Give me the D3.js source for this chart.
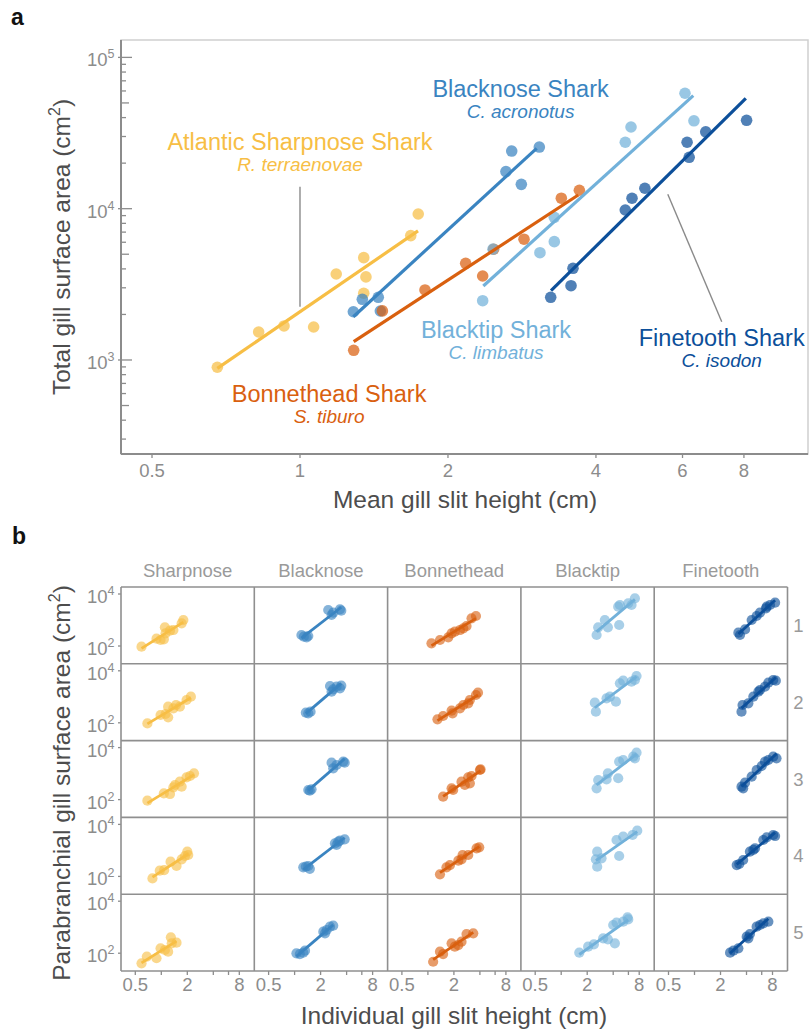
<!DOCTYPE html>
<html><head><meta charset="utf-8">
<script src="https://cdn.jsdelivr.net/npm/d3@7"></script>
<style>body{margin:0;background:#fff;} svg{display:block;font-family:"Liberation Sans",Arial,Helvetica,sans-serif;}</style>
</head><body><svg id="c" width="809" height="1034"></svg>
<script>
// ---------- categories & styling ----------
const species = ["Sharpnose","Blacknose","Bonnethead","Blacktip","Finetooth"];
const commonNames = ["Atlantic Sharpnose Shark","Blacknose Shark","Bonnethead Shark","Blacktip Shark","Finetooth Shark"];
const sciNames = ["R. terraenovae","C. acronotus","S. tiburo","C. limbatus","C. isodon"];
const colors = ["#F7BE45","#3A84C1","#D9600F","#72B1DA","#0C4F9A"];
const gillSlits = ["1","2","3","4","5"];

// ---------- panel a data: mean gill slit height (cm), total gill area (cm2) ----------
const sharpnoseMeanH = [0.679,0.824,0.928,1.066,1.185,1.348,1.362,1.348,1.68,1.74];
const sharpnoseTotal = [895,1531,1678,1652,3701,4745,3540,2762,6640,9225];
const blacknoseMeanH = [1.284,1.339,1.443,1.457,2.624,2.696,2.82,3.068];
const blacknoseTotal = [2084,2518,2595,2107,17580,24040,14480,25560];
const bonnetheadMeanH = [1.286,1.471,1.796,2.173,2.353,2.477,2.856,3.401,3.701];
const bonnetheadTotal = [1159,2110,2903,4352,3590,5397,6284,11730,13240];
const blacktipMeanH = [2.353,2.47,3.077,3.291,3.291,4.589,4.714,6.07,6.33];
const blacktipTotal = [2466,5400,5117,6055,8770,27480,34660,57920,38110];
const finetoothMeanH = [3.236,3.559,3.592,4.589,4.736,5.03,6.13,6.19,6.69,8.1];
const finetoothTotal = [2595,3097,4036,9800,11720,13650,27480,21860,32230,38400];
// fitted lines [x0, y0, x1, y1]
const fitLinesA = [[0.679,880,1.738,7130],[1.284,1932,3.03,25060],[1.286,1322,3.682,12320],[2.36,3083,6.31,55860],[3.241,2871,8.07,53660]];
// label anchors [x, y] (centre, baseline of common name)
const labelPosA = [[1.0,24430],[2.81,54950],[1.146,530],[2.505,1391],[7.21,1237]];
// leader lines [x0,y0,x1,y1]
const leaderLines = [[1.0,13960,1.0,2250],[5.60,12450,7.21,1792]];
const xTicksA = [0.5,1,2,4,6,8];
const yTicksA = [1e3,1e4,1e5];

// ---------- panel b data: individual slit height (cm), parabranchial area (cm2), per gill slit ----------
const sharpnoseSlitH = [
 [0.59,0.88,0.98,1.07,1.10,1.12,1.26,1.38,1.72,1.80],
 [0.69,0.98,1.12,1.20,1.20,1.38,1.48,1.64,1.96,2.20],
 [0.69,1.07,1.26,1.38,1.44,1.64,1.72,1.96,2.15,2.39],
 [0.79,0.96,1.08,1.28,1.50,1.72,1.88,2.0,2.05],
 [0.59,0.68,0.88,0.98,1.20,1.29,1.50,1.32,1.10]];
const sharpnoseSlitA = [
 [94,191,170,180,523,307,389,412,745,1000],
 [95,200,218,417,162,360,484,417,753,1010],
 [91,174,164,297,365,490,314,718,809,1023],
 [84,166,176,369,251,453,609,893,665],
 [41,74,64,154,115,408,254,240,133]];
const blacknoseSlitH = [
 [1.20,1.28,1.38,1.44,2.45,2.68,2.80,3.35,3.47],
 [1.35,1.44,1.53,2.57,2.68,2.80,3.06,3.47,3.35],
 [1.44,1.50,1.57,2.68,2.80,3.06,3.66,3.80],
 [1.26,1.35,1.44,1.50,2.93,3.06,3.20,3.35,3.80],
 [1.05,1.15,1.26,1.32,2.15,2.35,2.57,2.80,2.25]];
const blacknoseSlitA = [
 [265,228,215,243,2427,1556,1914,2573,2285],
 [245,231,268,2600,1574,1936,2455,2680,2120],
 [234,219,248,2630,1596,2143,2877,2630],
 [223,237,251,195,1871,1616,2168,2367,2668],
 [99,93,105,125,673,780,1050,1146,581]];
const bonnetheadSlitH = [
 [1.10,1.38,1.72,1.88,2.05,2.35,2.57,2.80,3.20,3.60],
 [1.29,1.50,1.88,1.93,2.35,2.57,2.93,3.06,3.60,3.80],
 [1.50,1.96,1.88,2.68,2.93,3.20,3.06,4.0,4.07,2.45],
 [1.38,1.64,1.80,2.25,2.45,2.52,2.93,3.66,3.93],
 [1.15,1.38,1.50,1.88,2.05,2.25,2.45,2.80,3.35]];
const bonnetheadSlitA = [
 [127,170,215,307,356,412,478,587,1159,1425],
 [136,183,293,231,360,484,561,753,1172,1442],
 [130,234,271,365,718,809,422,1375,1445,490],
 [120,223,274,403,453,665,665,1200,1312],
 [47,115,93,240,178,206,278,547,581]];
const blacktipSlitH = [
 [2.57,2.68,3.20,3.47,4.69,4.57,4.78,5.97,6.52,7.13],
 [2.52,2.45,3.35,3.66,4.30,4.78,5.22,6.52,7.45,7.13],
 [2.57,2.68,3.35,3.47,4.57,4.69,5.22,6.82,7.45,7.13],
 [2.61,2.52,2.61,2.93,4.69,4.37,5.22,6.70,7.59],
 [1.62,2.05,2.39,3.06,3.47,4.18,4.0,4.37,5.22,5.86,5.97]];
const blacktipSlitA = [
 [265,523,1000,523,643,3258,3779,4374,3779,6813],
 [268,595,873,1010,650,3296,4170,3820,6310,4430],
 [271,566,599,1023,663,2877,3333,4485,6380,3866],
 [237,453,893,496,609,2512,3373,3911,5740],
 [105,178,219,373,342,240,1216,1493,1633,2400,1985]];
const finetoothSlitH = [
 [3.36,3.22,3.85,4.59,5.24,5.73,6.72,6.85,7.49,8.57],
 [3.50,3.60,4.20,4.80,5.49,5.73,6.55,7.16,8.15,8.74],
 [3.50,3.66,3.85,4.59,5.24,5.99,6.55,7.16,8.15,8.9],
 [3.08,3.30,3.66,4.38,5.02,4.80,6.26,6.85,8.15,8.57],
 [2.58,2.82,3.22,4.02,4.38,5.24,5.73,6.26,7.16,4.20]];
const finetoothSlitA = [
 [265,326,436,1000,1425,1914,2812,3258,3779,4641],
 [268,484,561,1010,1574,1828,2455,3500,4430,4170],
 [314,271,448,762,1375,1959,2877,3333,4485,3866],
 [274,300,428,893,1200,1039,2512,3183,3911,3573],
 [105,125,154,433,547,1050,1216,1409,1633,373]];
const xTicksB = [0.5,1,2,4,6,8];
const xTickLabelsB = ["0.5","","2","","","8"];
const yTicksB = [1e2,1e4];

// ---------- assemble ----------
const panelA = [
 {x:sharpnoseMeanH,y:sharpnoseTotal},{x:blacknoseMeanH,y:blacknoseTotal},
 {x:bonnetheadMeanH,y:bonnetheadTotal},{x:blacktipMeanH,y:blacktipTotal},
 {x:finetoothMeanH,y:finetoothTotal}];
const panelB = [
 {h:sharpnoseSlitH,a:sharpnoseSlitA},{h:blacknoseSlitH,a:blacknoseSlitA},
 {h:bonnetheadSlitH,a:bonnetheadSlitA},{h:blacktipSlitH,a:blacktipSlitA},
 {h:finetoothSlitH,a:finetoothSlitA}];

const svg = d3.select("#c");
const tickCol = "#8c8c8c", titleCol = "#4d4d4d", axisCol = "#8c8c8c";

function powLabel(sel, v, x, y, fs, sfs) {
  const e = Math.round(Math.log10(v));
  const t = sel.append("text").attr("x", x).attr("y", y).attr("text-anchor","end")
    .attr("fill", tickCol).attr("font-size", fs);
  t.append("tspan").text("10");
  t.append("tspan").attr("font-size", sfs).attr("dy", -8).text(e);
}

// ================= PANEL A =================
const A = {l:121, r:808, t:40, b:454};
const xA = d3.scaleLog().domain([0.4324, 10.8]).range([A.l, A.r]);
const yA = d3.scaleLog().domain([239.1, 130300]).range([A.b, A.t]);
const gA = svg.append("g");

gA.append("rect").attr("x",A.l).attr("y",A.t).attr("width",A.r-A.l).attr("height",A.b-A.t)
  .attr("fill","none").attr("stroke","#cfcfcf").attr("stroke-width",1.5);
gA.append("line").attr("x1",A.l).attr("x2",A.l).attr("y1",A.t).attr("y2",A.b).attr("stroke",axisCol).attr("stroke-width",2);
gA.append("line").attr("x1",A.l).attr("x2",A.r).attr("y1",A.b).attr("y2",A.b).attr("stroke",axisCol).attr("stroke-width",2);

// log ticks on y (inside)
for (let e = 2; e <= 5; e++) {
  for (let m = 1; m <= 9; m++) {
    const v = m * Math.pow(10, e);
    const [lo, hi] = yA.domain();
    if (v < lo || v > hi) continue;
    const y = yA(v);
    const x0 = m === 1 ? A.l - 3 : A.l;
    const x1 = m === 1 ? A.l + 11 : (m === 5 ? A.l + 8 : A.l + 5);
    gA.append("line").attr("x1",x0).attr("x2",x1).attr("y1",y).attr("y2",y)
      .attr("stroke",axisCol).attr("stroke-width",1.3);
  }
}
yTicksA.forEach(v => powLabel(gA, v, 114.5, yA(v) + 9, 18.5, 12.5));
xTicksA.forEach(v => {
  gA.append("line").attr("x1",xA(v)).attr("x2",xA(v)).attr("y1",A.b).attr("y2",A.b+4).attr("stroke",axisCol).attr("stroke-width",1.3);
  gA.append("text").attr("x",xA(v)).attr("y",477).attr("text-anchor","middle")
    .attr("fill",tickCol).attr("font-size",18.5).text(v);
});

// axis titles
{
  const t = gA.append("text").attr("transform","translate(70,247) rotate(-90)")
    .attr("text-anchor","middle").attr("fill",titleCol).attr("font-size",24.5);
  t.append("tspan").text("Total gill surface area (cm");
  t.append("tspan").attr("font-size",16).attr("dy",-10).text("2");
  t.append("tspan").attr("dy",10).text(")");
  gA.append("text").attr("x",465).attr("y",508).attr("text-anchor","middle")
    .attr("fill",titleCol).attr("font-size",24.5).text("Mean gill slit height (cm)");
}

// leader lines
leaderLines.forEach(l => {
  gA.append("line").attr("x1",xA(l[0])).attr("y1",yA(l[1])).attr("x2",xA(l[2])).attr("y2",yA(l[3]))
    .attr("stroke","#8a8a8a").attr("stroke-width",1.4);
});

// points
panelA.forEach((d, i) => {
  gA.append("g").selectAll("circle").data(d3.zip(d.x, d.y)).join("circle")
    .attr("cx", p => xA(p[0])).attr("cy", p => yA(p[1])).attr("r", 5.8)
    .attr("fill", colors[i]).attr("fill-opacity", 0.72);
});
// fitted lines
fitLinesA.forEach((f, i) => {
  gA.append("line").attr("x1",xA(f[0])).attr("y1",yA(f[1])).attr("x2",xA(f[2])).attr("y2",yA(f[3]))
    .attr("stroke",colors[i]).attr("stroke-width",3.2);
});
// labels
labelPosA.forEach((p, i) => {
  const x = xA(p[0]), y = yA(p[1]);
  gA.append("text").attr("x",x).attr("y",y).attr("text-anchor","middle").attr("fill",colors[i])
    .attr("font-size",23.5).text(commonNames[i]);
  gA.append("text").attr("x",x).attr("y",y+21).attr("text-anchor","middle").attr("fill",colors[i])
    .attr("font-size",19).attr("font-style","italic").text(sciNames[i]);
});
svg.append("text").attr("x",11).attr("y",25).attr("font-weight","bold").attr("font-size",23).attr("fill","#111").text("a");

// ================= PANEL B =================
const B = {l:121, t:587, cw:133.3, rh:76.8};
const xB = d3.scaleLog().domain([0.3415, 11.93]).range([0, B.cw]);
const yB = d3.scaleLog().domain([20.7, 18580]).range([B.rh, 0]);
const gB = svg.append("g");
svg.append("text").attr("x",12).attr("y",544).attr("font-weight","bold").attr("font-size",23).attr("fill","#111").text("b");

species.forEach((s, c) => {
  const cx = B.l + c * B.cw;
  gB.append("text").attr("x", cx + B.cw/2).attr("y", 577).attr("text-anchor","middle")
    .attr("fill","#9a9a9a").attr("font-size",18.5).text(s);
  // x ticks on bottom row
  const by = B.t + 5 * B.rh;
  xTicksB.forEach((v, k) => {
    gB.append("line").attr("x1",cx+xB(v)).attr("x2",cx+xB(v)).attr("y1",by).attr("y2",by+4)
      .attr("stroke",axisCol).attr("stroke-width",1.3);
    if (xTickLabelsB[k]) gB.append("text").attr("x",cx+xB(v)).attr("y",991).attr("text-anchor","middle")
      .attr("fill",tickCol).attr("font-size",18.5).text(xTickLabelsB[k]);
  });
  gillSlits.forEach((g, r) => {
    const ry = B.t + r * B.rh;
    const hs = panelB[c].h[r], as = panelB[c].a[r];
    const pts = d3.zip(hs, as);
    const cell = gB.append("g").attr("transform", `translate(${cx},${ry})`);
    cell.selectAll("circle").data(pts).join("circle")
      .attr("cx", p => xB(p[0])).attr("cy", p => yB(p[1])).attr("r", 5.1)
      .attr("fill", colors[c]).attr("fill-opacity", 0.62);
    // least squares fit in log-log space
    const lx = hs.map(Math.log10), ly = as.map(Math.log10);
    const mx = d3.mean(lx), my = d3.mean(ly);
    const slope = d3.sum(lx.map((v, k) => (v - mx) * (ly[k] - my))) / d3.sum(lx.map(v => (v - mx) ** 2));
    const x0 = d3.min(hs), x1 = d3.max(hs);
    const f = x => Math.pow(10, my + slope * (Math.log10(x) - mx));
    cell.append("line").attr("x1",xB(x0)).attr("y1",yB(f(x0))).attr("x2",xB(x1)).attr("y2",yB(f(x1)))
      .attr("stroke",colors[c]).attr("stroke-width",2.8);
  });
});
// y ticks & row labels
gillSlits.forEach((g, r) => {
  const ry = B.t + r * B.rh;
  yTicksB.forEach(v => {
    gB.append("line").attr("x1",B.l-3).attr("x2",B.l).attr("y1",ry+yB(v)).attr("y2",ry+yB(v))
      .attr("stroke",axisCol).attr("stroke-width",1.3);
    powLabel(gB, v, 114.5, ry + yB(v) + 9, 18.5, 12.5);
  });
  gB.append("text").attr("x",798.5).attr("y",ry + B.rh/2 + 6.5).attr("text-anchor","middle")
    .attr("fill","#9a9a9a").attr("font-size",18.5).text(g);
});
// grid lines
for (let c = 0; c <= 5; c++) {
  gB.append("line").attr("x1",B.l+c*B.cw).attr("x2",B.l+c*B.cw).attr("y1",B.t).attr("y2",B.t+5*B.rh)
    .attr("stroke","#8f8f8f").attr("stroke-width",1.6);
}
for (let r = 0; r <= 5; r++) {
  gB.append("line").attr("x1",B.l).attr("x2",B.l+5*B.cw).attr("y1",B.t+r*B.rh).attr("y2",B.t+r*B.rh)
    .attr("stroke","#8f8f8f").attr("stroke-width",1.6);
}
// axis titles
{
  const t = gB.append("text").attr("transform","translate(70,783) rotate(-90)")
    .attr("text-anchor","middle").attr("fill",titleCol).attr("font-size",24.5);
  t.append("tspan").text("Parabranchial gill surface area (cm");
  t.append("tspan").attr("font-size",16).attr("dy",-10).text("2");
  t.append("tspan").attr("dy",10).text(")");
  gB.append("text").attr("x",454).attr("y",1024).attr("text-anchor","middle")
    .attr("fill",titleCol).attr("font-size",24.5).text("Individual gill slit height (cm)");
}
</script>
</body></html>
